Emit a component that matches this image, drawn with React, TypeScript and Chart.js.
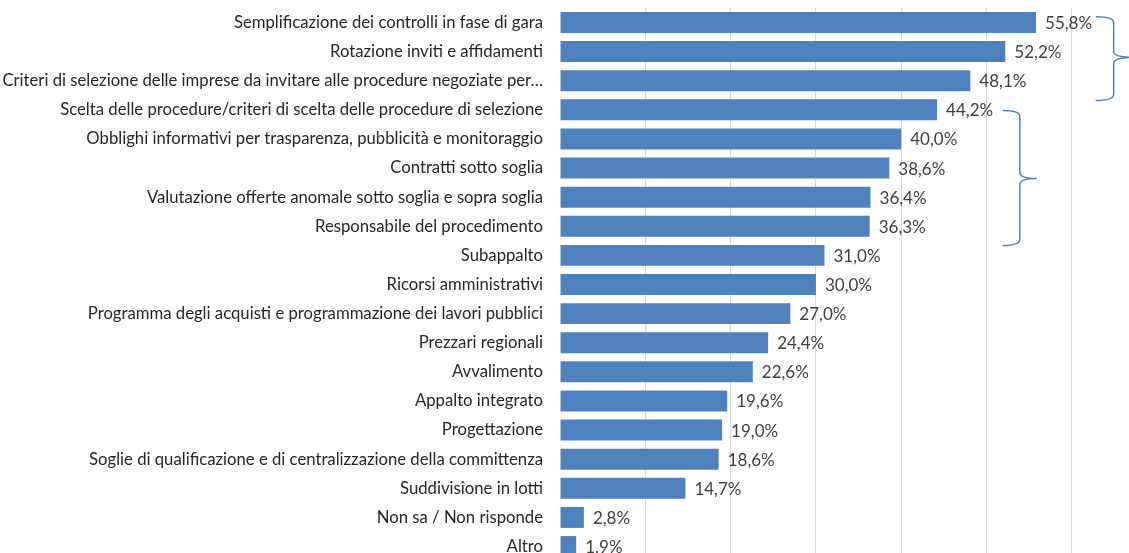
import React, { useEffect, useRef } from "react";
import { Chart, registerables } from "chart.js";

Chart.register(...registerables);

const categories = [
  "Semplificazione dei controlli in fase di gara",
  "Rotazione inviti e affidamenti",
  "Criteri di selezione delle imprese da invitare alle procedure negoziate per…",
  "Scelta delle procedure/criteri di scelta delle procedure di selezione",
  "Obblighi informativi per trasparenza, pubblicità e monitoraggio",
  "Contratti sotto soglia",
  "Valutazione offerte anomale sotto soglia e sopra soglia",
  "Responsabile del procedimento",
  "Subappalto",
  "Ricorsi amministrativi",
  "Programma degli acquisti e programmazione dei lavori pubblici",
  "Prezzari regionali",
  "Avvalimento",
  "Appalto integrato",
  "Progettazione",
  "Soglie di qualificazione e di centralizzazione della committenza",
  "Suddivisione in lotti",
  "Non sa / Non risponde",
  "Altro",
];

const values = [55.8, 52.2, 48.1, 44.2, 40.0, 38.6, 36.4, 36.3, 31.0, 30.0, 27.0, 24.4, 22.6, 19.6, 19.0, 18.6, 14.7, 2.8, 1.9];

const valueLabels = [
  "55,8%", "52,2%", "48,1%", "44,2%", "40,0%", "38,6%", "36,4%", "36,3%", "31,0%", "30,0%",
  "27,0%", "24,4%", "22,6%", "19,6%", "19,0%", "18,6%", "14,7%", "2,8%", "1.9%",
];

// Braces: category range (fractional indices) and value positions (tip, spine, point)
const braceTop = [-0.2, 3.02];
const braceBottom = [2.68, 7.66];
const braceMid = [1.2, 5.36];
const braceTipX = [62.8, 51.9];
const braceSpineX = [64.9, 53.9];
const bracePointX = [67.5, 55.9];

const BLUE = "#4f81bd";
const FONT = "Lato, 'Open Sans', sans-serif";

const valueLabelPlugin = {
  id: "valueLabels",
  afterDatasetsDraw(chart: any) {
    const ctx = chart.ctx;
    const meta = chart.getDatasetMeta(0);
    ctx.save();
    ctx.font = `17px ${FONT}`;
    ctx.fillStyle = "#404040";
    ctx.textAlign = "left";
    ctx.textBaseline = "middle";
    meta.data.forEach((bar: any, i: number) => {
      ctx.fillText(valueLabels[i], bar.x + 9, bar.y + 1);
    });
    ctx.restore();
  },
};

const bracePlugin = {
  id: "braces",
  afterDraw(chart: any) {
    const ctx = chart.ctx;
    const xs = chart.scales.x;
    const ys = chart.scales.y;
    const step = ys.getPixelForValue(1) - ys.getPixelForValue(0);
    const yAt = (v: number) => ys.getPixelForValue(0) + v * step;
    ctx.save();
    ctx.strokeStyle = BLUE;
    ctx.lineWidth = 1.5;
    for (let i = 0; i < braceTop.length; i++) {
      const top = yAt(braceTop[i]);
      const bot = yAt(braceBottom[i]);
      const mid = yAt(braceMid[i]);
      const tx = xs.getPixelForValue(braceTipX[i]);
      const sx = xs.getPixelForValue(braceSpineX[i]);
      const px = xs.getPixelForValue(bracePointX[i]);
      const r = 6;
      ctx.beginPath();
      ctx.moveTo(tx, top);
      ctx.quadraticCurveTo(sx, top, sx, top + r);
      ctx.lineTo(sx, mid - r);
      ctx.quadraticCurveTo(sx, mid, px, mid);
      ctx.quadraticCurveTo(sx, mid, sx, mid + r);
      ctx.lineTo(sx, bot - r);
      ctx.quadraticCurveTo(sx, bot, tx, bot);
      ctx.stroke();
    }
    ctx.restore();
  },
};

export default function App() {
  const ref = useRef<HTMLCanvasElement>(null);
  useEffect(() => {
    if (!ref.current) return;
    const chart = new Chart(ref.current, {
      type: "bar",
      data: {
        labels: categories,
        datasets: [
          {
            data: values,
            backgroundColor: BLUE,
            borderWidth: 0,
            categoryPercentage: 1,
            barPercentage: 0.72,
          },
        ],
      },
      options: {
        indexAxis: "y",
        responsive: false,
        animation: false,
        layout: { padding: { top: 7.9, bottom: 0.9, left: 0, right: 0 } },
        plugins: { legend: { display: false }, tooltip: { enabled: false } },
        scales: {
          x: {
            min: 0,
            max: 66.7,
            ticks: { display: false, stepSize: 10 },
            grid: {
              drawTicks: false,
              color: (c: any) => (c.tick && c.tick.value > 0 && Math.abs(c.tick.value % 10) < 1e-6 ? "#d9d9d9" : "rgba(0,0,0,0)"),
            },
            border: { display: false },
          },
          y: {
            grid: { display: false, drawTicks: false },
            border: { display: false },
            ticks: {
              padding: 17,
              color: "#262626",
              font: { family: FONT, size: 16.7 },
              autoSkip: false,
            },
            afterFit: (s: any) => {
              s.width = 560;
              s.paddingTop = 0;
              s.paddingBottom = 0;
            },
          },
        },
      },
      plugins: [valueLabelPlugin, bracePlugin],
    });
    return () => chart.destroy();
  }, []);
  return (
    <div style={{ position: "fixed", left: 0, top: 0, width: 1129, height: 562, background: "#fff" }}>
      <canvas ref={ref} width={1129} height={562} style={{ width: 1129, height: 562, display: "block" }} />
    </div>
  );
}
